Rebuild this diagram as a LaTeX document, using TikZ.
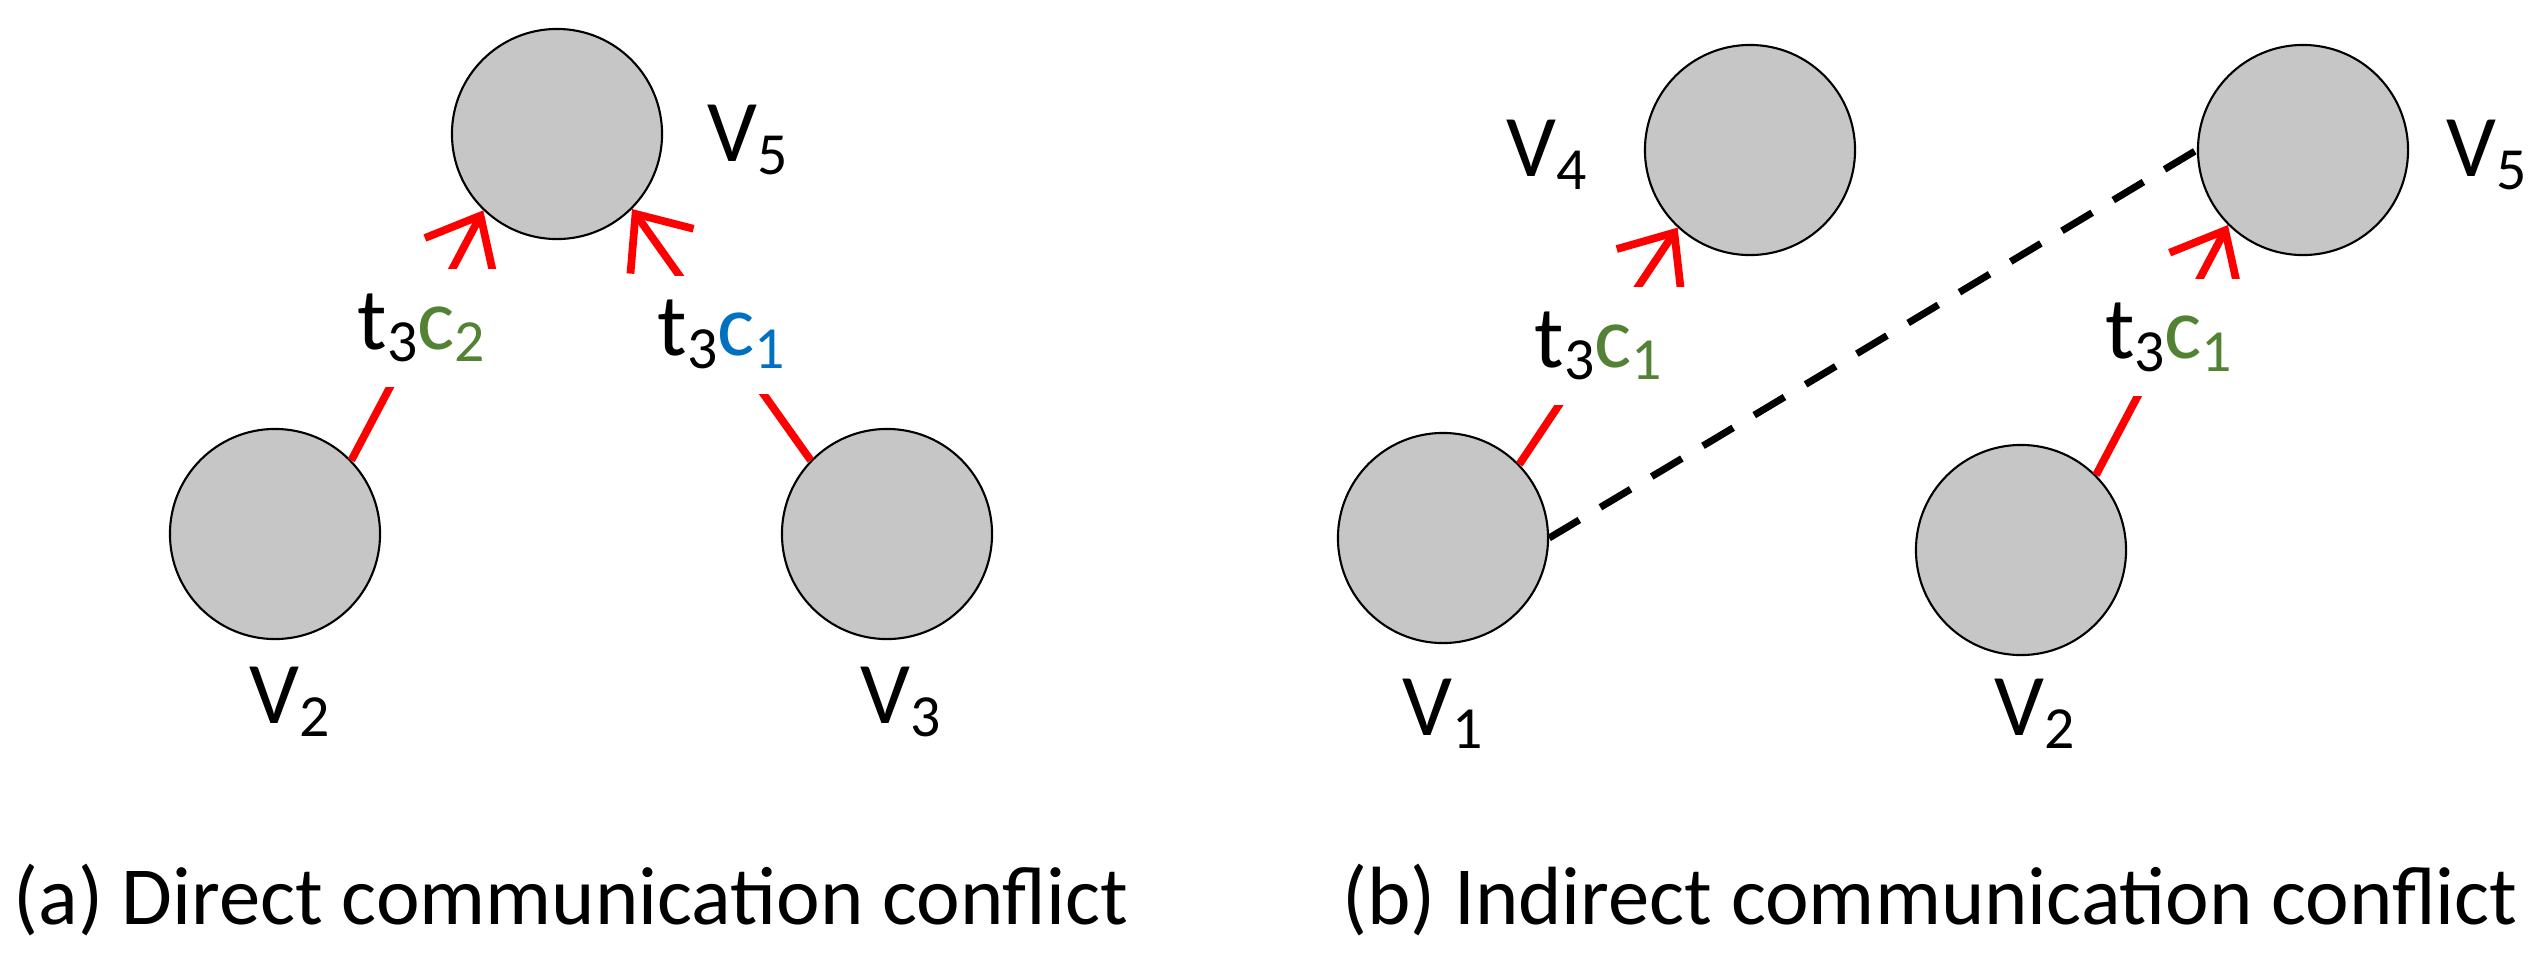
\documentclass[tikz,border=0pt]{standalone}
\usepackage{fontspec}
\setmainfont{Carlito}
\usetikzlibrary{arrows.meta}
\definecolor{cgreen}{RGB}{84,130,53}
\definecolor{cblue}{RGB}{0,112,192}
\newcommand{\sbs}[1]{\raisebox{-0.3ex}{\fontsize{17}{17}\selectfont #1}}
\begin{document}
\begin{tikzpicture}[x=0.01cm,y=-0.01cm,
  vert/.style={circle,draw=black,line width=0.6pt,fill=gray!45,minimum size=2.1cm,inner sep=0pt},
  lab/.style={font=\fontsize{25}{27}\selectfont},
  captxt/.style={font=\fontsize{23.5}{26}\selectfont},
  elab/.style={font=\fontsize{25}{27}\selectfont,fill=white,inner sep=7pt},
  msg/.style={draw=red,line width=2.2pt,-{Straight Barb[length=13pt,width=22pt,line width=2.2pt]}},
  conf/.style={draw=black,line width=2pt,dash pattern=on 10pt off 7pt}]
\useasboundingbox (0,0) rectangle (2529,963);
% (a)
\node[vert] (a5) at (557,134) {};
\node[vert] (a2) at (275,534) {};
\node[vert] (a3) at (887,534) {};
\node[lab] (la5) at (748,140) {V\sbs{5}};
\node[lab] (la2) at (290,702) {V\sbs{2}};
\node[lab] (la3) at (901,702) {V\sbs{3}};
\draw[msg] (a2.44) -- node[elab,pos=0.53] {t\sbs{3}\textcolor{cgreen}{c\sbs{2}}} (a5.226);
\draw[msg] (a3.136) -- node[elab,pos=0.5] {t\sbs{3}\textcolor{cblue}{c\sbs{1}}} (a5.-45);
\node[captxt] (capa) at (571,900) {(a) Direct communication conflict};
% (b)
\node[vert] (b4) at (1750,150) {};
\node[vert] (b5) at (2303,150) {};
\node[vert] (b1) at (1443,538) {};
\node[vert] (b2) at (2021,550) {};
\node[lab] (lb4) at (1547,155) {V\sbs{4}};
\node[lab] (lb5) at (2487,155) {V\sbs{5}};
\node[lab] (lb1) at (1443,714) {V\sbs{1}};
\node[lab] (lb2) at (2035,714) {V\sbs{2}};
\draw[conf] (b1.east) -- (b5.west);
\draw[msg] (b1.44) -- node[elab,pos=0.5] {t\sbs{3}\textcolor{cgreen}{c\sbs{1}}} (b4.227);
\draw[msg] (b2.45) -- node[elab,pos=0.55] {t\sbs{3}\textcolor{cgreen}{c\sbs{1}}} (b5.225);
\node[captxt] (capb) at (1930,900) {(b) Indirect communication conflict};
\end{tikzpicture}
\end{document}
